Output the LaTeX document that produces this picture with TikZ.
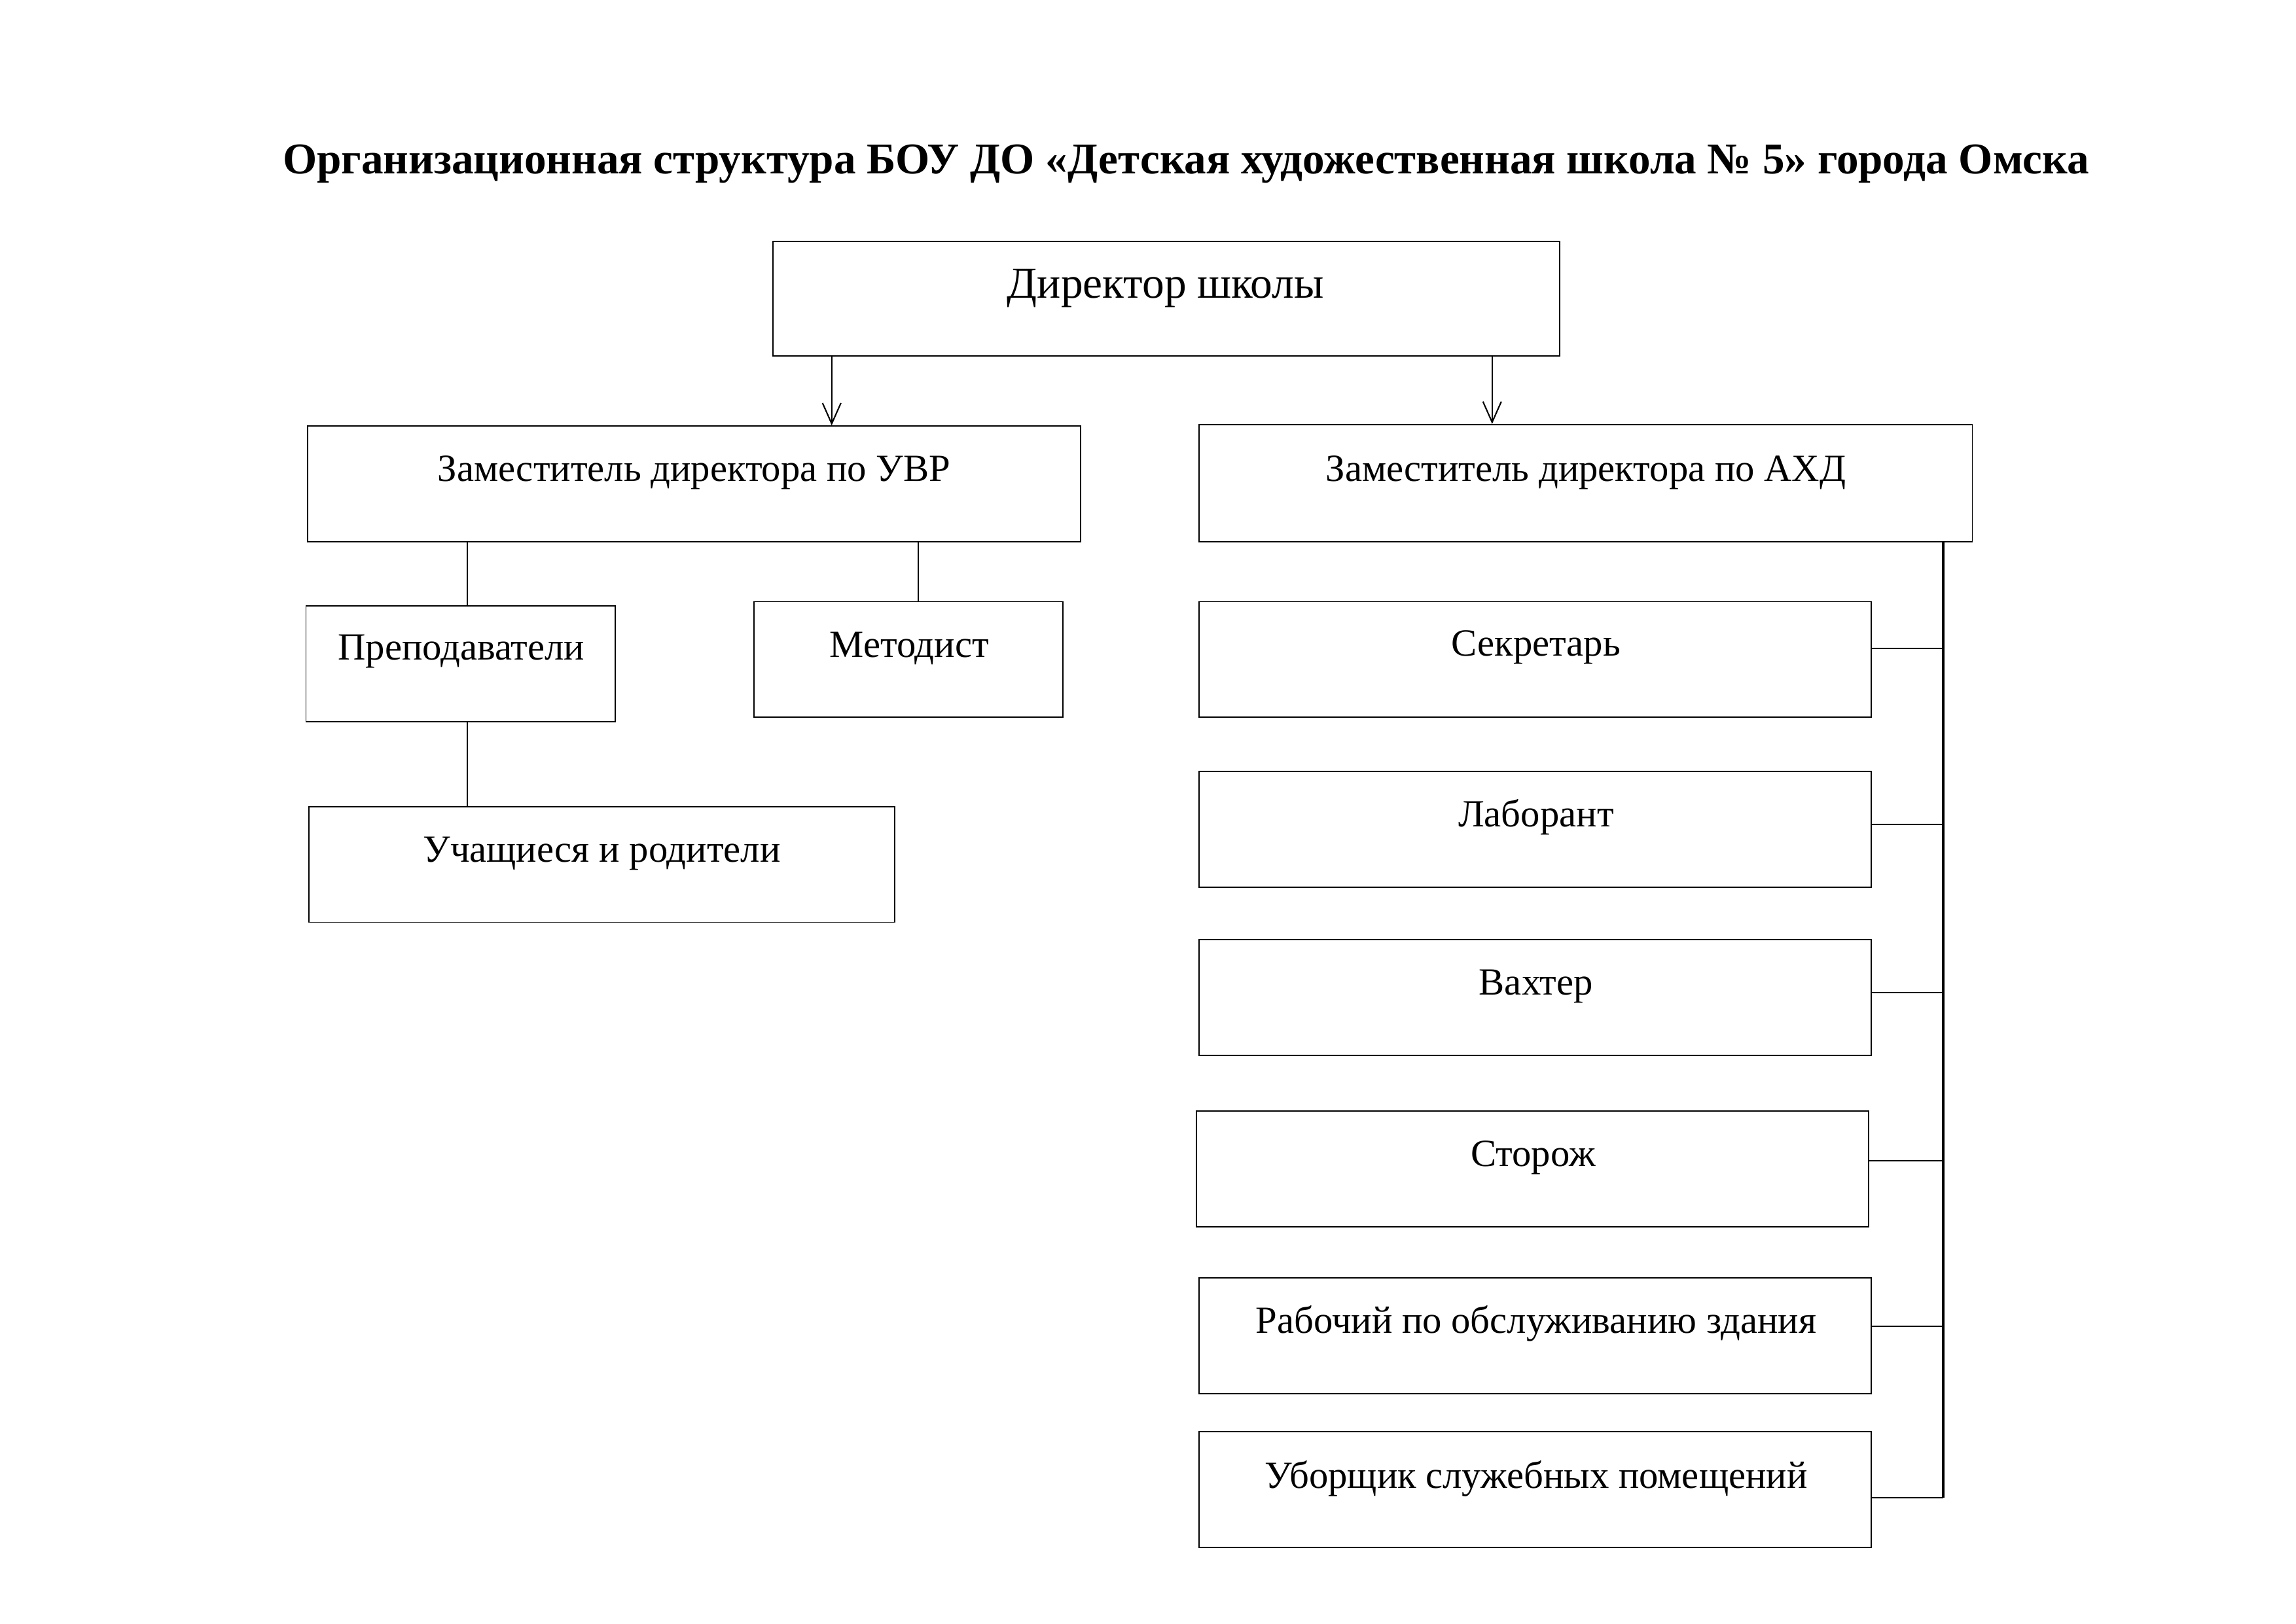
\documentclass[tikz,border=0pt]{standalone}
\usepackage{fontspec}
\setmainfont{Liberation Serif}
\usetikzlibrary{fit,arrows.meta}
\begin{document}
\begin{tikzpicture}[x=0.022372cm,y=-0.022372cm,
  box/.style={draw, line width=0.5pt, inner sep=0pt},
  lbl/.style={font=\fontsize{16.7}{20}\selectfont, inner sep=0pt},
  conn/.style={line width=0.6pt},
  bus/.style={line width=1.2pt},
  arr/.style={conn, -{Straight Barb[length=9pt,width=8pt]}}]
\useasboundingbox (0,0) rectangle (1568,1109);
\fill[white] (0,0) rectangle (1568,1109);

\node[font=\bfseries\fontsize{19.1}{23}\selectfont, inner sep=0pt] (title) at (810,112)
  {Организационная структура БОУ ДО «Детская художественная школа №~5» города Омска};

\node[box, fit={(528,165) (1065,243)}] (dir) {};
\node[lbl, font=\fontsize{19.2}{23}\selectfont] (dirt) at (796,197) {Директор школы};

\node[box, fit={(210,291) (738,370)}] (uvr) {};
\node[lbl] (uvrt) at (474,323) {Заместитель директора по УВР};

\node[box, fit={(819,290) (1347,370)}] (axd) {};
\node[lbl] (axdt) at (1083,323) {Заместитель директора по АХД};

\node[box, fit={(209,414) (420,493)}] (prep) {};
\node[lbl] (prept) at (315,445) {Преподаватели};

\node[box, fit={(515,411) (726,490)}] (met) {};
\node[lbl] (mett) at (621,443) {Методист};

\node[box, fit={(211,551) (611,630)}] (uch) {};
\node[lbl] (ucht) at (411,583) {Учащиеся и родители};

\node[box, fit={(819,411) (1278,490)}] (sek) {};
\node[lbl] (sekt) at (1049,442) {Секретарь};

\node[box, fit={(819,527) (1278,606)}] (lab) {};
\node[lbl] (labt) at (1049,558) {Лаборант};

\node[box, fit={(819,642) (1278,721)}] (vah) {};
\node[lbl] (vaht) at (1049,674) {Вахтер};

\node[box, fit={(817,759) (1276,838)}] (sto) {};
\node[lbl] (stot) at (1047,791) {Сторож};

\node[box, fit={(819,873) (1278,952)}] (rab) {};
\node[lbl] (rabt) at (1049,904) {Рабочий по обслуживанию здания};

\node[box, fit={(819,978) (1278,1057)}] (ubo) {};
\node[lbl] (ubot) at (1049,1010) {Уборщик служебных помещений};

% arrows from director
\coordinate (a1) at (568,0);
\coordinate (a2) at (1019,0);
\draw[arr] (dir.south -| a1) -- (uvr.north -| a1);
\draw[arr] (dir.south -| a2) -- (axd.north -| a2);

% UVR branch
\coordinate (l1) at (319,0);
\coordinate (l2) at (627,0);
\draw[conn] (uvr.south -| l1) -- (prep.north -| l1);
\draw[conn] (uvr.south -| l2) -- (met.north -| l2);
\draw[conn] (prep.south -| l1) -- (uch.north -| l1);

% AXD bus
\coordinate (bx) at (1327,0);
\coordinate (b1) at (1327,443);
\coordinate (b2) at (1327,563);
\coordinate (b3) at (1327,678);
\coordinate (b4) at (1327,793);
\coordinate (b5) at (1327,906);
\coordinate (b6) at (1327,1023);
\draw[bus] (axd.south -| bx) -- (b6);
\draw[conn] (sek.east |- b1) -- (b1);
\draw[conn] (lab.east |- b2) -- (b2);
\draw[conn] (vah.east |- b3) -- (b3);
\draw[conn] (sto.east |- b4) -- (b4);
\draw[conn] (rab.east |- b5) -- (b5);
\draw[conn] (ubo.east |- b6) -- (b6);
\end{tikzpicture}
\end{document}
